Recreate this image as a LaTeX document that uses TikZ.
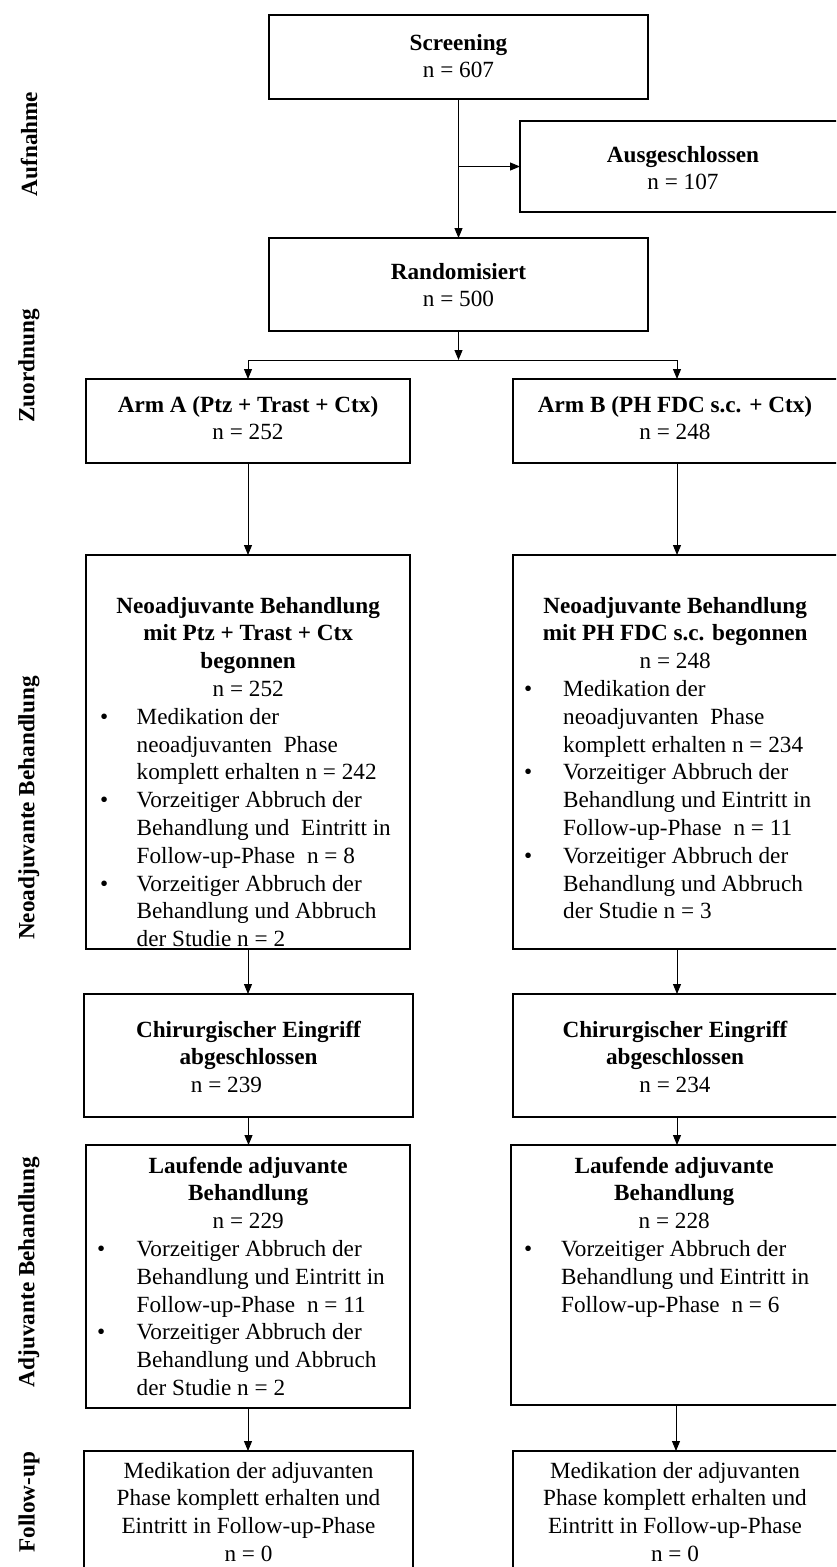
\documentclass[tikz,border=0pt]{standalone}
\usepackage{fontspec}
\setmainfont{Liberation Serif}
\usetikzlibrary{arrows.meta}
\tikzset{
  box/.style={draw, line width=1.6pt, inner sep=0pt, outer sep=0pt},
  conn/.style={line width=1pt},
  arr/.style={conn, -{Triangle[length=10pt,width=8pt]}},
  txt/.style={inner sep=0pt, font=\fontsize{23.2}{27.8}\selectfont},
  side/.style={inner sep=0pt, rotate=90, font=\fontsize{23.2}{27.8}\selectfont\bfseries},
}
% bullet set at a given offset from the left edge of its column
\newcommand\bul[1]{\hspace*{#1pt}\textbullet}
\newcommand\hd[1]{\multicolumn{2}{@{}c@{}}{#1}}
\begin{document}
\begin{tikzpicture}[x=1pt,y=-1pt]
\useasboundingbox (0,0) rectangle (836,1567);
\begin{scope}
\clip (0,0) rectangle (836,1567);

% phase labels
\node[side] (lab1) at (29,144) {Aufnahme};
\node[side] (lab2) at (29,366) {Zuordnung};
\node[side] (lab3) at (29,808) {Neoadjuvante Behandlung};
\node[side] (lab4) at (29,1272) {Adjuvante Behandlung};
\node[side] (lab5) at (29,1502) {Follow-up};

% frames
\node[box, minimum width=379pt, minimum height=84pt] (scr) at (458.5,57) {};
\node[box, minimum width=326pt, minimum height=91pt] (aus) at (683,166.5) {};
\node[box, minimum width=379pt, minimum height=93pt] (rand) at (458.5,284.5) {};
\node[box, minimum width=324pt, minimum height=84pt] (armA) at (248,421) {};
\node[box, minimum width=328pt, minimum height=84pt] (armB) at (677,421) {};
\node[box, minimum width=324pt, minimum height=394pt] (neoA) at (248,752) {};
\node[box, minimum width=328pt, minimum height=394pt] (neoB) at (677,752) {};
\node[box, minimum width=329pt, minimum height=123pt] (chirA) at (248.5,1055.5) {};
\node[box, minimum width=328pt, minimum height=123pt] (chirB) at (677,1055.5) {};
\node[box, minimum width=324pt, minimum height=263pt] (laufA) at (248,1276.5) {};
\node[box, minimum width=330pt, minimum height=260pt] (laufB) at (676,1275) {};
\node[box, minimum width=329pt, minimum height=149pt] (fuA) at (248.5,1525.5) {};
\node[box, minimum width=328pt, minimum height=149pt] (fuB) at (677,1525.5) {};

% texts
\node[txt, anchor=base] (scrT) at (458.5,50) {\begin{tabular}[t]{@{}c@{}}\bfseries Screening\\ n = 607\end{tabular}};
\node[txt, anchor=base] (ausT) at (683,162) {\begin{tabular}[t]{@{}c@{}}\bfseries Ausgeschlossen\\ n = 107\end{tabular}};
\node[txt, anchor=base] (randT) at (458.5,279) {\begin{tabular}[t]{@{}c@{}}\bfseries Randomisiert\\ n = 500\end{tabular}};
\node[txt, anchor=base] (armAT) at (248,412) {\begin{tabular}[t]{@{}c@{}}\bfseries Arm A (Ptz + Trast + Ctx)\\ n = 252\end{tabular}};
\node[txt, anchor=base] (armBT) at (675,412) {\begin{tabular}[t]{@{}c@{}}\bfseries Arm B (PH FDC s.c. + Ctx)\\ n = 248\end{tabular}};

\node[txt, anchor=base west] (neoAT) at (86,613) {\begin{tabular}[t]{@{}p{50.5pt}@{}p{273.5pt}@{}}
\hd{\bfseries Neoadjuvante Behandlung}\\
\hd{\bfseries mit Ptz + Trast + Ctx}\\
\hd{\bfseries begonnen}\\
\hd{n = 252}\\
\bul{14} & Medikation der\\
 & neoadjuvanten\hspace{6pt} Phase\\
 & komplett erhalten n = 242\\
\bul{14} & Vorzeitiger Abbruch der\\
 & Behandlung und\hspace{6pt} Eintritt in\\
 & Follow-up-Phase\hspace{6pt} n = 8\\
\bul{14} & Vorzeitiger Abbruch der\\
 & Behandlung und Abbruch\\
 & der Studie n = 2
\end{tabular}};

\node[txt, anchor=base west] (neoBT) at (513,613) {\begin{tabular}[t]{@{}p{50pt}@{}p{274pt}@{}}
\hd{\bfseries Neoadjuvante Behandlung}\\
\hd{\bfseries mit PH FDC s.c. begonnen}\\
\hd{n = 248}\\
\bul{11} & Medikation der\\
 & neoadjuvanten\hspace{6pt} Phase\\
 & komplett erhalten n = 234\\
\bul{11} & Vorzeitiger Abbruch der\\
 & Behandlung und Eintritt in\\
 & Follow-up-Phase\hspace{6pt} n = 11\\
\bul{11} & Vorzeitiger Abbruch der\\
 & Behandlung und Abbruch\\
 & der Studie n = 3
\end{tabular}};

\node[txt, anchor=base] (chirAT) at (248.5,1037) {\begin{tabular}[t]{@{}c@{}}\bfseries Chirurgischer Eingriff\\ \bfseries abgeschlossen\\ n = 239\hspace*{44pt}\end{tabular}};
\node[txt, anchor=base] (chirBT) at (675,1037) {\begin{tabular}[t]{@{}c@{}}\bfseries Chirurgischer Eingriff\\ \bfseries abgeschlossen\\ n = 234\end{tabular}};

\node[txt, anchor=base west] (laufAT) at (86,1173) {\begin{tabular}[t]{@{}p{50.5pt}@{}p{273.5pt}@{}}
\hd{\bfseries Laufende adjuvante}\\
\hd{\bfseries Behandlung}\\
\hd{n = 229}\\
\bul{11} & Vorzeitiger Abbruch der\\
 & Behandlung und Eintritt in\\
 & Follow-up-Phase\hspace{6pt} n = 11\\
\bul{11} & Vorzeitiger Abbruch der\\
 & Behandlung und Abbruch\\
 & der Studie n = 2
\end{tabular}};

\node[txt, anchor=base west] (laufBT) at (511,1173) {\begin{tabular}[t]{@{}p{50pt}@{}p{276pt}@{}}
\hd{\bfseries Laufende adjuvante}\\
\hd{\bfseries Behandlung}\\
\hd{n = 228}\\
\bul{13} & Vorzeitiger Abbruch der\\
 & Behandlung und Eintritt in\\
 & Follow-up-Phase\hspace{6pt} n = 6
\end{tabular}};

\node[txt, anchor=base] (fuAT) at (248.5,1478) {\begin{tabular}[t]{@{}c@{}}Medikation der adjuvanten\\ Phase komplett erhalten und\\ Eintritt in Follow-up-Phase\\ n = 0\end{tabular}};
\node[txt, anchor=base] (fuBT) at (675,1478) {\begin{tabular}[t]{@{}c@{}}Medikation der adjuvanten\\ Phase komplett erhalten und\\ Eintritt in Follow-up-Phase\\ n = 0\end{tabular}};

% connectors
\coordinate (exit) at (scr.south |- aus.west);
\coordinate (split) at (458.5,360);
\coordinate (splitA) at (armA.north |- split);
\coordinate (splitB) at (armB.north |- split);
\draw[arr] (scr.south) -- (rand.north);
\draw[arr] (exit) -- (aus.west);
\draw[arr] (rand.south) -- (split);
\draw[conn] (splitA) -- (splitB);
\draw[arr] (splitA) -- (armA.north);
\draw[arr] (splitB) -- (armB.north);
% straight vertical drops down each arm
\draw[arr] (armA.south) -- (armA.south |- neoA.north);
\draw[arr] (armB.south) -- (armB.south |- neoB.north);
\draw[arr] (neoA.south) -- (neoA.south |- chirA.north);
\draw[arr] (neoB.south) -- (neoB.south |- chirB.north);
\draw[arr] (chirA.south) -- (chirA.south |- laufA.north);
\draw[arr] (chirB.south) -- (chirB.south |- laufB.north);
\draw[arr] (laufA.south) -- (laufA.south |- fuA.north);
\draw[arr] (laufB.south) -- (laufB.south |- fuB.north);
\end{scope}
\end{tikzpicture}
\end{document}
